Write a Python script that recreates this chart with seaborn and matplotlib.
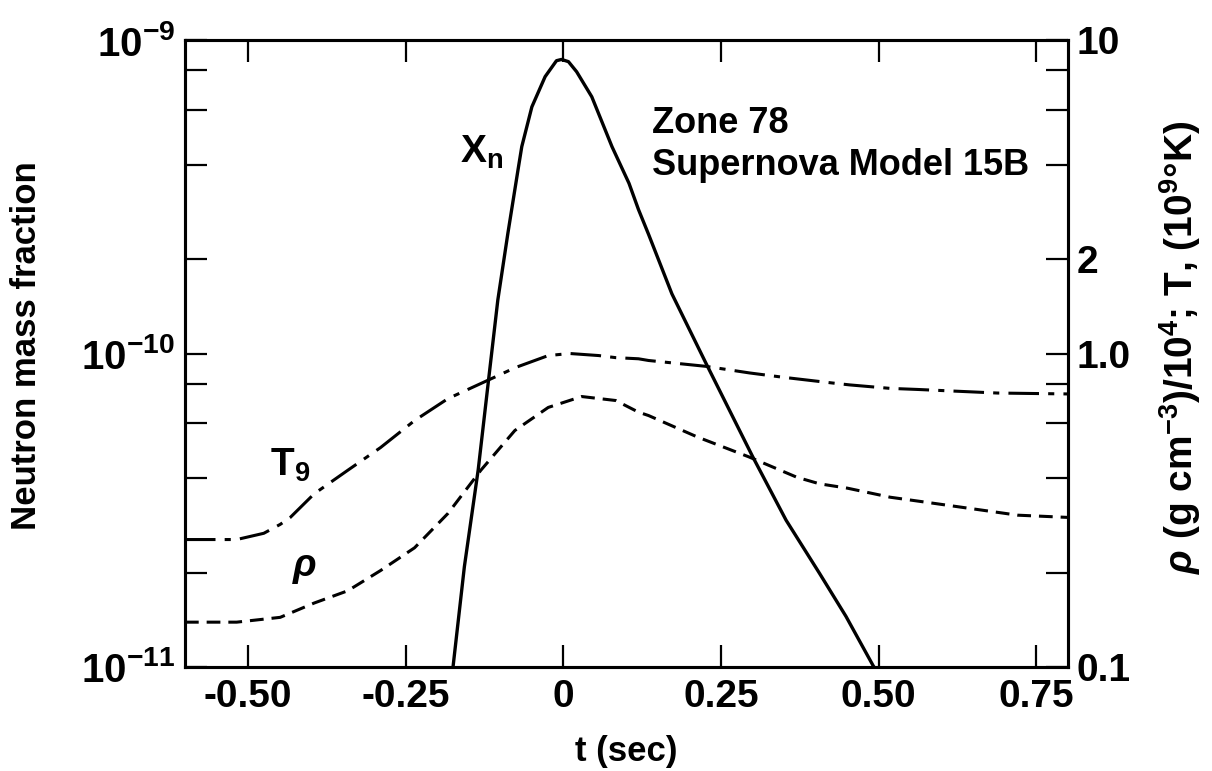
import matplotlib
matplotlib.use("Agg")
import matplotlib.pyplot as plt
import seaborn as sns
import numpy as np
from matplotlib.ticker import FixedLocator, FixedFormatter, NullFormatter

# ---------------- data ----------------
t_xn = [-0.180, -0.175, -0.157, -0.135, -0.119, -0.104, -0.088, -0.072, -0.066,
        -0.050, -0.029, -0.011, -0.003, 0.008, 0.021, 0.045, 0.077, 0.104, 0.119,
        0.135, 0.172, 0.226, 0.300, 0.353, 0.406, 0.448, 0.491, 0.502]
xn = [8.71e-12, 1.0e-11, 2.09e-11, 4.27e-11, 8.13e-11, 1.48e-10, 2.42e-10, 3.85e-10,
      4.57e-10, 6.12e-10, 7.64e-10, 8.59e-10, 8.67e-10, 8.53e-10, 7.92e-10, 6.59e-10,
      4.57e-10, 3.49e-10, 2.88e-10, 2.40e-10, 1.55e-10, 9.31e-11, 4.69e-11, 2.94e-11,
      1.99e-11, 1.45e-11, 1.01e-11, 9.3e-12]

t_t9 = [-0.60, -0.518, -0.475, -0.449, -0.433, -0.395, -0.342, -0.290, -0.236, -0.183,
        -0.131, -0.076, -0.024, 0.010, 0.056, 0.083, 0.119, 0.135, 0.226, 0.295,
        0.348, 0.427, 0.454, 0.518, 0.561, 0.688, 0.80]
t9 = [0.255, 0.255, 0.267, 0.285, 0.30, 0.357, 0.424, 0.501, 0.611, 0.718,
      0.802, 0.902, 0.985, 1.0, 0.985, 0.97, 0.962, 0.95, 0.910, 0.867,
      0.840, 0.805, 0.794, 0.774, 0.768, 0.748, 0.743]

t_rho = [-0.60, -0.518, -0.449, -0.395, -0.342, -0.290, -0.236, -0.183, -0.131,
         -0.077, -0.024, 0.029, 0.083, 0.119, 0.135, 0.212, 0.294, 0.370, 0.406,
         0.450, 0.518, 0.586, 0.720, 0.80]
rho = [0.139, 0.139, 0.144, 0.160, 0.175, 0.203, 0.240, 0.309, 0.424,
       0.568, 0.673, 0.729, 0.708, 0.650, 0.634, 0.542, 0.468, 0.403, 0.384,
       0.372, 0.348, 0.333, 0.305, 0.300]

x_ticks = [-0.50, -0.25, 0.0, 0.25, 0.50, 0.75]
x_ticklabels = ["-0.50", "-0.25", "0", "0.25", "0.50", "0.75"]
yl_ticks = [1e-11, 1e-10, 1e-9]
yl_ticklabels = [r"$\mathbf{10^{-11}}$", r"$\mathbf{10^{-10}}$", r"$\mathbf{10^{-9}}$"]
yl_minor = [2e-11, 4e-11, 6e-11, 8e-11, 2e-10, 4e-10, 6e-10, 8e-10]
yr_ticks = [0.1, 1.0, 2.0, 10.0]
yr_ticklabels = ["0.1", "1.0", "2", "10"]
yr_minor = [0.2, 0.4, 0.6, 0.8, 4.0, 6.0, 8.0]

# ---------------- style ----------------
sns.set_style("ticks")
plt.rcParams["font.family"] = ["Liberation Sans", "DejaVu Sans"]
plt.rcParams["font.weight"] = "bold"
plt.rcParams["text.color"] = "black"
plt.rcParams["axes.labelcolor"] = "black"
plt.rcParams["xtick.color"] = "black"
plt.rcParams["ytick.color"] = "black"
plt.rcParams["mathtext.fontset"] = "custom"
plt.rcParams["mathtext.rm"] = "Liberation Sans:bold"
plt.rcParams["mathtext.bf"] = "Liberation Sans:bold"
plt.rcParams["mathtext.it"] = "Liberation Sans:bold:italic"
plt.rcParams["mathtext.default"] = "bf"

XTICK_FS = 28
YTICK_FS = 29
RTICK_FS = 28
LAB_FS = 25
ANN_FS = 26
LW_SP = 2.2
TL = 15.5

fig = plt.figure(figsize=(12.12, 7.71), dpi=100)
ax = fig.add_axes([0.1526, 0.1349, 0.7286, 0.8132])
ax2 = ax.twinx()

sns.lineplot(x=t_xn, y=xn, ax=ax, color="black", linewidth=2.4, sort=False)
ax.set_yscale("log")
ax.set_xlim(-0.6, 0.8)
ax.set_ylim(1e-11, 1e-9)

sns.lineplot(x=t_t9, y=t9, ax=ax2, color="black", linewidth=2.2, sort=False)
sns.lineplot(x=t_rho, y=rho, ax=ax2, color="black", linewidth=2.2, sort=False)
ax2.lines[0].set_dashes([10, 3, 2, 3])
ax2.lines[1].set_dashes([4.5, 2.6])
ax2.set_yscale("log")
ax2.set_ylim(0.1, 10)
ax2.set_xlim(-0.6, 0.8)

# ticks
ax.xaxis.set_major_locator(FixedLocator(x_ticks))
ax.xaxis.set_major_formatter(FixedFormatter(x_ticklabels))
ax.yaxis.set_major_locator(FixedLocator(yl_ticks))
ax.yaxis.set_major_formatter(FixedFormatter(yl_ticklabels))
ax.yaxis.set_minor_locator(FixedLocator(yl_minor))
ax.yaxis.set_minor_formatter(NullFormatter())
ax2.yaxis.set_major_locator(FixedLocator(yr_ticks))
ax2.yaxis.set_major_formatter(FixedFormatter(yr_ticklabels))
ax2.yaxis.set_minor_locator(FixedLocator(yr_minor))
ax2.yaxis.set_minor_formatter(NullFormatter())

ax.tick_params(axis="x", which="both", direction="in", top=True, bottom=True,
               length=TL, width=1.6, labelsize=XTICK_FS, pad=9, colors="black")
ax.tick_params(axis="y", which="both", direction="in", left=True, right=False,
               length=TL, width=1.6, labelsize=YTICK_FS, pad=7, colors="black")
ax2.tick_params(axis="y", which="both", direction="in", left=False, right=True,
                length=TL, width=1.6, labelsize=RTICK_FS, pad=6, colors="black")
for a in (ax, ax2):
    for s in a.spines.values():
        s.set_linewidth(LW_SP)
        s.set_color("black")
for lab in ax.get_xticklabels() + ax2.get_yticklabels():
    lab.set_fontweight("bold")

# axis labels
ax.set_xlabel("t (sec)", fontsize=LAB_FS, fontweight="bold", va="top")
ax.xaxis.set_label_coords(0.5, -0.108)
ax.set_ylabel("Neutron mass fraction", fontsize=LAB_FS, fontweight="bold", va="center")
ax.yaxis.set_label_coords(-0.179, 0.513)
ax2.set_ylabel(r"$\mathit{\rho}$ (g cm$^{-3}$)/10$^{4}$; T, (10$^{9}$°K)",
               fontsize=28, fontweight="bold", va="center")
ax2.yaxis.set_label_coords(1.127, 0.51)

# annotations
ax.text(-0.164, 4.06e-10, r"$X_n$", fontsize=28, ha="left", va="baseline")
ax2.text(-0.465, 0.409, r"$T_9$", fontsize=28, ha="left", va="baseline")
ax2.text(-0.411, 0.207, r"$\mathit{\rho}$", fontsize=28, ha="center", va="center")
ax.text(0.529, 0.852, "Zone 78", transform=ax.transAxes, fontsize=ANN_FS,
        fontweight="bold", ha="left", va="baseline")
ax.text(0.529, 0.785, "Supernova Model 15B", transform=ax.transAxes, fontsize=ANN_FS,
        fontweight="bold", ha="left", va="baseline")

fig.savefig("out.png", dpi=100, facecolor="white")
